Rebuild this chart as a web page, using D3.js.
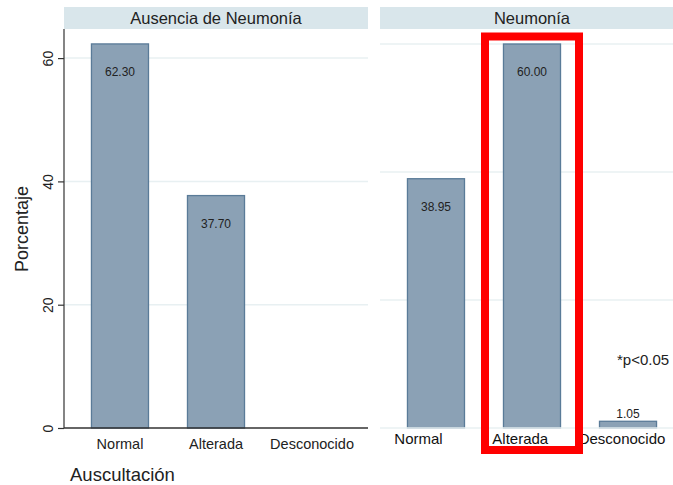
<!DOCTYPE html>
<html>
<head>
<meta charset="utf-8">
<script src="https://cdn.jsdelivr.net/npm/d3@7/dist/d3.min.js"></script>
<style>
  html, body { margin: 0; padding: 0; background: #fff; overflow: hidden; }
  svg { display: block; font-family: "Liberation Sans", Arial, sans-serif; }
</style>
</head>
<body>
<svg id="chart" width="673" height="485"></svg>
<script>
// Auscultation result by pneumonia group (percent)
const categories = ["Normal", "Alterada", "Desconocido"];
const panelTitles = ["Ausencia de Neumonía", "Neumonía"];
const sinNeumonia = [62.30, 37.70, 0];
const conNeumonia = [38.95, 60.00, 1.05];
const yTicks = [0, 20, 40, 60];
const highlighted = "Alterada";
const note = "*p<0.05";

const svg = d3.select("#chart");

const barFill = "#8ba1b5";
const barStroke = "#5a7b98";
const gridColor = "#e8f0f2";
const stripFill = "#d9e6eb";
const textColor = "#222";

const baseY = 428, plotTop = 29, stripTop = 7;

// Two panels, each with its own band scale and value scale
const panels = [
  { title: panelTitles[0], values: sinNeumonia, x0: 64, x1: 368, yMax: (baseY - plotTop) / (123.3 / 20) },
  { title: panelTitles[1], values: conNeumonia, x0: 380, x1: 684, yMax: (baseY - plotTop) / (128 / 20) }
];

panels.forEach((p, i) => {
  const g = svg.append("g");
  const x = d3.scaleBand().domain(categories).range([p.x0, p.x1])
    .paddingInner(0.406).paddingOuter(0.286);
  const y = d3.scaleLinear().domain([0, p.yMax]).range([baseY, plotTop]);

  // strip header
  g.append("rect").attr("x", p.x0).attr("y", stripTop)
    .attr("width", p.x1 - p.x0).attr("height", plotTop - stripTop)
    .attr("fill", stripFill);
  g.append("text").attr("x", (p.x0 + p.x1) / 2).attr("y", 24)
    .attr("text-anchor", "middle").attr("font-size", 16.5).attr("fill", textColor)
    .text(p.title);

  // gridlines
  g.selectAll(".grid").data(yTicks.filter(t => t > 0)).join("line")
    .attr("x1", p.x0).attr("x2", p.x1)
    .attr("y1", d => y(d)).attr("y2", d => y(d))
    .attr("stroke", gridColor).attr("stroke-width", 1.5);

  // bars
  const data = categories.map((c, j) => ({ c, v: p.values[j] }));
  g.selectAll(".bar").data(data.filter(d => d.v > 0)).join("rect")
    .attr("x", d => x(d.c)).attr("width", x.bandwidth())
    .attr("y", d => y(d.v)).attr("height", d => y(0) - y(d.v))
    .attr("fill", barFill).attr("stroke", barStroke).attr("stroke-width", 1.3);

  // value labels: inside the top of tall bars, above short ones
  g.selectAll(".lab").data(data.filter(d => d.v > 0)).join("text")
    .attr("x", d => x(d.c) + x.bandwidth() / 2)
    .attr("y", d => (y(0) - y(d.v) > 40) ? y(d.v) + 32 : y(d.v) - 3)
    .attr("text-anchor", "middle").attr("font-size", 12).attr("fill", textColor)
    .text(d => d.v.toFixed(2));

  if (i === 0) {
    // y axis
    const ax = g.append("g").attr("transform", `translate(${p.x0},0)`)
      .call(d3.axisLeft(y).tickValues(yTicks).tickSize(6).tickPadding(5));
    ax.select(".domain").attr("stroke", "#333").attr("stroke-width", 1.2)
      .attr("d", `M0,${plotTop}V${baseY}`);
    ax.selectAll(".tick line").attr("stroke", "#333").attr("stroke-width", 1.2);
    ax.selectAll(".tick text")
      .attr("transform", "rotate(-90)")
      .attr("x", 0).attr("y", -11).attr("dy", 0)
      .attr("text-anchor", "middle")
      .attr("font-size", 14).attr("fill", textColor)
      .attr("font-family", "Liberation Sans, Arial, sans-serif");

    // x axis
    const bx = g.append("g").attr("transform", `translate(0,${baseY})`)
      .call(d3.axisBottom(x).tickSize(0).tickPadding(0));
    bx.select(".domain").attr("stroke", "#333").attr("stroke-width", 1.4)
      .attr("d", `M${p.x0},0H${p.x1}`);
    bx.selectAll(".tick text").attr("y", 21).attr("dy", 0)
      .attr("font-size", 14.5).attr("fill", textColor)
      .attr("font-family", "Liberation Sans, Arial, sans-serif");
  } else {
    // baseline of the second panel
    g.append("line").attr("x1", p.x0).attr("x2", p.x1)
      .attr("y1", baseY).attr("y2", baseY)
      .attr("stroke", gridColor).attr("stroke-width", 1.5);

    // category labels of the second panel
    const xl = d3.scalePoint().domain(categories).range([p.x0 + 38, p.x0 + 241.5]);
    const bx = g.append("g").attr("transform", `translate(0,${baseY})`)
      .call(d3.axisBottom(xl).tickSize(0).tickPadding(0));
    bx.select(".domain").remove();
    bx.selectAll(".tick text").attr("y", 16).attr("dy", 0)
      .attr("font-size", 15).attr("fill", "#111")
      .attr("font-family", "Liberation Sans, Arial, sans-serif");

    // significance note
    g.append("text").attr("x", 617).attr("y", 365)
      .attr("font-size", 15).attr("fill", textColor).text(note);

    // highlight frame around the significant category
    const hx = x(highlighted) + x.bandwidth() / 2;
    g.append("rect")
      .attr("x", hx - 47).attr("y", 36.5)
      .attr("width", 94).attr("height", 413.5)
      .attr("fill", "none").attr("stroke", "#ff0000").attr("stroke-width", 8);
  }
});

// axis titles
svg.append("text").attr("transform", "translate(28,229) rotate(-90)")
  .attr("text-anchor", "middle").attr("font-size", 18).attr("fill", textColor)
  .text("Porcentaje");
svg.append("text").attr("x", 70).attr("y", 481)
  .attr("font-size", 18.5).attr("fill", textColor)
  .text("Auscultación");
</script>
</body>
</html>
